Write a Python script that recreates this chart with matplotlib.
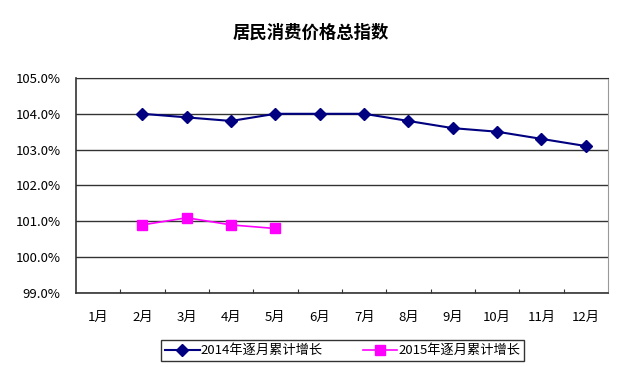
import numpy as np
import matplotlib
matplotlib.use('Agg')
import matplotlib.pyplot as plt
from matplotlib.ticker import FixedLocator, FuncFormatter

plt.rcParams['font.family'] = ['Noto Sans CJK SC', 'DejaVu Sans']

# data
months = ['1月', '2月', '3月', '4月', '5月', '6月', '7月', '8月', '9月', '10月', '11月', '12月']
months_2014 = ['2月', '3月', '4月', '5月', '6月', '7月', '8月', '9月', '10月', '11月', '12月']
cpi_2014 = [104.0, 103.9, 103.8, 104.0, 104.0, 104.0, 103.8, 103.6, 103.5, 103.3, 103.1]
months_2015 = ['2月', '3月', '4月', '5月']
cpi_2015 = [100.9, 101.1, 100.9, 100.8]
y_ticks = [99.0, 100.0, 101.0, 102.0, 103.0, 104.0, 105.0]

fig = plt.figure(figsize=(6.22, 3.67), dpi=100)
ax = fig.add_axes([0.122, 0.2016, 0.8555, 0.586])

x14 = [months.index(m) for m in months_2014]
x15 = [months.index(m) for m in months_2015]

ax.plot(x14, cpi_2014, color='#000080', marker='D', markersize=6, linewidth=1.5,
        label='2014年逐月累计增长')
ax.plot(x15, cpi_2015, color='#FF00FF', marker='s', markersize=7, linewidth=1.2,
        label='2015年逐月累计增长')

ax.set_xlim(-0.5, len(months) - 0.5)
ax.set_ylim(y_ticks[0], y_ticks[-1])

# gridlines for y
ax.set_yticks(y_ticks)
ax.yaxis.set_major_formatter(FuncFormatter(lambda v, p: '%.1f%%' % v))
ax.yaxis.grid(True, color='#333333', linewidth=1.0)
ax.tick_params(axis='y', length=0, pad=11, labelsize=9.5)

# x ticks at category boundaries, labels at centres
ax.xaxis.set_major_locator(FixedLocator(np.arange(0.5, len(months) - 0.5, 1)))
ax.xaxis.set_major_formatter(FuncFormatter(lambda v, p: ''))
ax.xaxis.set_minor_locator(FixedLocator(np.arange(len(months))))
ax.set_xticklabels(months, minor=True)
ax.tick_params(axis='x', which='major', direction='in', length=3, color='#333333')
ax.tick_params(axis='x', which='minor', length=0, pad=13, labelsize=9.5)
ax.set_axisbelow(True)

for side in ['left', 'bottom']:
    ax.spines[side].set_color('#333333')
    ax.spines[side].set_linewidth(1.2)
ax.spines['top'].set_color('#333333')
ax.spines['right'].set_color('#999999')

fig.text(0.5, 0.912, '居民消费价格总指数', ha='center', va='center',
         fontsize=12.5, fontweight='bold')

leg = fig.legend(loc='center', bbox_to_anchor=(0.551, 0.044), ncol=2, fontsize=9.5,
                 frameon=True, fancybox=False, edgecolor='black',
                 handlelength=2.6, columnspacing=3.0, borderpad=0.3,
                 handletextpad=0.1, borderaxespad=0)
leg.get_frame().set_linewidth(1.0)

fig.savefig('out.png', dpi=100, facecolor='white')
